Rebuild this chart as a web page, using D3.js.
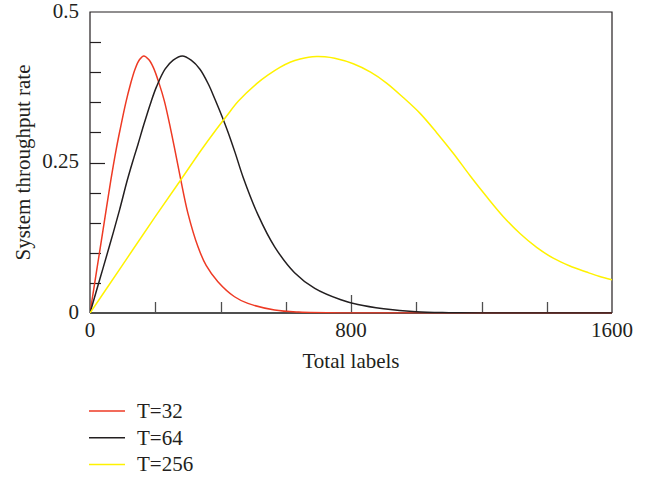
<!DOCTYPE html>
<html>
<head>
<meta charset="utf-8">
<script src="https://cdn.jsdelivr.net/npm/d3@7"></script>
<style>
  html, body { margin: 0; padding: 0; background: #fff; }
  svg { display: block; }
  text { font-family: "Liberation Serif", "Times New Roman", serif; fill: #231f20; }
</style>
</head>
<body>
<svg id="chart" width="650" height="477"></svg>
<script>
// Throughput versus number of labels for three frame sizes
const seriesNames = ["T=32", "T=64", "T=256"];
const seriesColors = ["#ee3a24", "#231f20", "#fff200"];

const t32Labels = [0, 20, 40, 64, 80, 92, 110, 123, 138, 152, 165, 180, 194, 212, 228, 247, 262, 278, 300, 331, 356, 392, 443, 484, 566, 640, 800, 1000, 1600];
const t32Rate   = [0, 0.069, 0.138, 0.221, 0.271, 0.304, 0.350, 0.378, 0.405, 0.421, 0.427, 0.421, 0.408, 0.381, 0.352, 0.306, 0.266, 0.222, 0.166, 0.110, 0.079, 0.052, 0.027, 0.016, 0.005, 0.0015, 0, 0, 0];

const t64Labels = [0, 30, 60, 90, 114, 130, 147, 165, 186, 204, 230, 255, 283, 310, 337, 363, 383, 405, 422, 445, 469, 515, 566, 627, 689, 769, 821, 900, 1000, 1100, 1200, 1600];
const t64Rate   = [0, 0.056, 0.112, 0.170, 0.220, 0.250, 0.280, 0.313, 0.349, 0.376, 0.405, 0.420, 0.427, 0.420, 0.405, 0.380, 0.355, 0.326, 0.302, 0.266, 0.226, 0.163, 0.110, 0.067, 0.041, 0.022, 0.014, 0.007, 0.002, 0.0005, 0, 0];

const t256Labels = [0, 100, 200, 278, 340, 383, 417, 455, 511, 545, 582, 615, 644, 670, 695, 720, 750, 807, 860, 909, 960, 1011, 1062, 1114, 1165, 1216, 1267, 1318, 1369, 1420, 1471, 1522, 1560, 1600];
const t256Rate   = [0, 0.080, 0.160, 0.221, 0.270, 0.302, 0.326, 0.352, 0.381, 0.395, 0.408, 0.417, 0.422, 0.425, 0.426, 0.4255, 0.423, 0.414, 0.400, 0.382, 0.358, 0.332, 0.300, 0.265, 0.228, 0.193, 0.160, 0.132, 0.109, 0.091, 0.078, 0.068, 0.061, 0.055];

const xTickValues = [0, 200, 400, 600, 800, 1000, 1200, 1400, 1600];
const xTickLabels = ["0", "", "", "", "800", "", "", "", "1600"];
const yTickValues = [0, 0.05, 0.1, 0.15, 0.2, 0.25, 0.3, 0.35, 0.4, 0.45, 0.5];
const yTickLabels = ["0", "", "", "", "", "0.25", "", "", "", "", "0.5"];

const xTitle = "Total labels";
const yTitle = "System throughput rate";

const series = [
  { name: seriesNames[0], color: seriesColors[0], labels: t32Labels, rate: t32Rate },
  { name: seriesNames[1], color: seriesColors[1], labels: t64Labels, rate: t64Rate },
  { name: seriesNames[2], color: seriesColors[2], labels: t256Labels, rate: t256Rate }
];

const plot = { left: 90, right: 612, top: 12, bottom: 313 };
const fontSize = 21;
const svg = d3.select("#chart");

const x = d3.scaleLinear().domain([0, 1600]).range([plot.left, plot.right]);
const y = d3.scaleLinear().domain([0, 0.5]).range([plot.bottom, plot.top]);

const frameColor = "#231f20";
const axisGray = "#4f4f4f";

svg.append("clipPath").attr("id", "plot-clip")
  .append("rect")
  .attr("x", plot.left).attr("y", plot.top - 2)
  .attr("width", plot.right - plot.left).attr("height", plot.bottom - plot.top + 2.5);

// Frame: left, top and right edges
svg.append("path")
  .attr("d", `M${plot.left},${plot.bottom} V${plot.top} H${plot.right} V${plot.bottom}`)
  .attr("fill", "none")
  .attr("stroke", frameColor)
  .attr("stroke-width", 1.2);

// Bottom axis line
svg.append("line")
  .attr("x1", plot.left).attr("x2", plot.right)
  .attr("y1", y(0)).attr("y2", y(0))
  .attr("stroke", axisGray)
  .attr("stroke-width", 2);

// Y ticks point inward; labelled ticks are longer
yTickValues.forEach((v, i) => {
  if (v === 0 || v === 0.5) return;
  const len = yTickLabels[i] ? 15 : 11;
  svg.append("line")
    .attr("x1", plot.left).attr("x2", plot.left + len)
    .attr("y1", Math.round(y(v)) + 0.5).attr("y2", Math.round(y(v)) + 0.5)
    .attr("stroke", frameColor)
    .attr("stroke-width", 1.2);
});
yTickValues.forEach((v, i) => {
  if (!yTickLabels[i]) return;
  svg.append("text")
    .attr("x", 79)
    .attr("y", y(v) + 5.5)
    .attr("text-anchor", "end")
    .attr("font-size", fontSize)
    .text(yTickLabels[i]);
});

// X ticks point upward from the baseline
xTickValues.forEach((v, i) => {
  if (v === 0 || v === 1600) return;
  const len = xTickLabels[i] ? 18 : 11;
  svg.append("line")
    .attr("x1", Math.round(x(v)) + 0.5).attr("x2", Math.round(x(v)) + 0.5)
    .attr("y1", y(0)).attr("y2", y(0) - len)
    .attr("stroke", axisGray)
    .attr("stroke-width", 1.3);
});
xTickValues.forEach((v, i) => {
  if (!xTickLabels[i]) return;
  svg.append("text")
    .attr("x", x(v))
    .attr("y", 337)
    .attr("text-anchor", "middle")
    .attr("font-size", fontSize)
    .text(xTickLabels[i]);
});

// Axis titles
svg.append("text")
  .attr("x", (plot.left + plot.right) / 2)
  .attr("y", 368)
  .attr("text-anchor", "middle")
  .attr("font-size", fontSize)
  .text(xTitle);

svg.append("text")
  .attr("transform", `translate(30,${(plot.top + plot.bottom) / 2}) rotate(-90)`)
  .attr("text-anchor", "middle")
  .attr("font-size", fontSize)
  .text(yTitle);

// Curves
const line = d3.line()
  .x(d => x(d[0]))
  .y(d => y(d[1]))
  .curve(d3.curveCatmullRom.alpha(0.5));

const curves = svg.append("g").attr("clip-path", "url(#plot-clip)");
series.forEach(s => {
  const pts = s.labels.map((n, i) => [n, s.rate[i]]);
  curves.append("path")
    .datum(pts)
    .attr("d", line)
    .attr("fill", "none")
    .attr("stroke", s.color)
    .attr("stroke-width", 1.5);
});

// Legend below the plot
const legend = svg.append("g");
series.forEach((s, i) => {
  const ly = 411 + i * 26.7;
  legend.append("line")
    .attr("x1", 89).attr("x2", 125)
    .attr("y1", ly).attr("y2", ly)
    .attr("stroke", s.color)
    .attr("stroke-width", 1.5);
  legend.append("text")
    .attr("x", 137)
    .attr("y", ly + 7)
    .attr("font-size", fontSize)
    .text(s.name);
});
</script>
</body>
</html>
